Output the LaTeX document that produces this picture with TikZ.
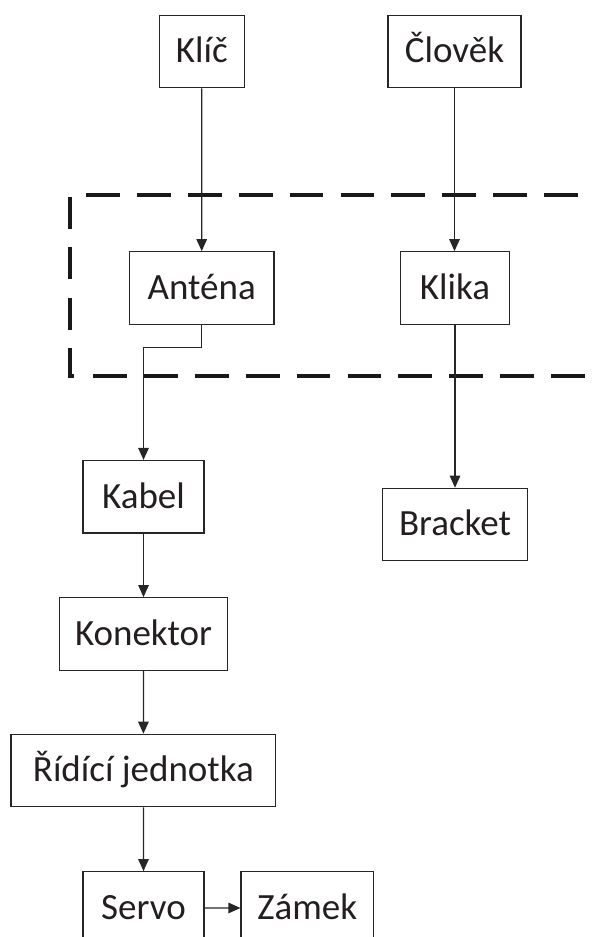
\documentclass[tikz,border=0pt]{standalone}
\usepackage{fontspec}
\setmainfont{Carlito}
\usetikzlibrary{arrows.meta}
\definecolor{ln}{RGB}{38,38,38}
\definecolor{tx}{RGB}{35,31,32}
\begin{document}
\begin{tikzpicture}[x=1pt,y=-1pt,
  box/.style={draw=ln,line width=1.2pt,rectangle,inner sep=0pt,minimum height=72.4pt,
    text height=22.7pt,text depth=0pt,text=tx,font=\fontsize{37}{40}\selectfont},
  arr/.style={draw=ln,line width=1.3pt,-{Triangle[length=12pt,width=10.5pt]}},
  frame/.style={draw=black!90,line width=4.3pt}]
\useasboundingbox (0,0) rectangle (593,937);
\clip (0,0) rectangle (593,937);
% dashed frame
\draw[frame,dash pattern=on 33.8pt off 17.1pt] (86,195) -- (640,195);
\draw[frame,dash pattern=on 33.8pt off 17.1pt] (93,375.7) -- (640,375.7);
\draw[frame,dash pattern=on 32pt off 18.3pt] (70,197) -- (70,375.7) -- (78,375.7);
% nodes
\node[box,minimum width=85pt]    (klic)     at (201.8,51.5)  {Klíč};
\node[box,minimum width=133pt]   (clovek)   at (454.5,51.5)  {Člověk};
\node[box,minimum width=144.7pt] (antena)   at (201.7,287.9) {Anténa};
\node[box,minimum width=108.6pt] (klika)    at (455,287.9)   {Klika};
\node[box,minimum width=121pt]   (kabel)    at (143.5,496.7) {Kabel};
\node[box,minimum width=144.6pt] (bracket)  at (455,524.5)   {Bracket};
\node[box,minimum width=168.4pt] (konektor) at (143.5,633.9) {Konektor};
\node[box,minimum width=264.7pt] (ridici)   at (143.4,770.5) {Řídící jednotka};
\node[box,minimum width=121pt]   (servo)    at (143.5,907.9) {Servo};
\node[box,minimum width=132.3pt] (zamek)    at (307.2,908)   {Zámek};
% connectors
\draw[arr] (klic.south) -- (antena.north);
\draw[arr] (clovek.south) -- (clovek.south |- klika.north);
\draw[arr] (antena.south) -- ++(0,22.7) -| (kabel.north);
\draw[arr] (klika.south) -- (bracket.north);
\draw[arr] (kabel.south) -- (konektor.north);
\draw[arr] (konektor.south) -- (ridici.north);
\draw[arr] (ridici.south) -- (servo.north);
\draw[arr] (servo.east) -- (zamek.west);
\end{tikzpicture}
\end{document}
